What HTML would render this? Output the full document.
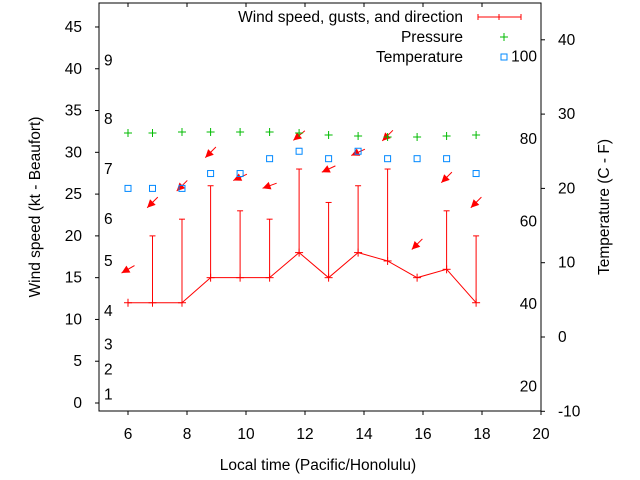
<!DOCTYPE html>
<html><head><meta charset="utf-8"><style>
body{margin:0;background:#fff}
svg{display:block;font-family:"Liberation Sans",sans-serif;font-size:15.5px}
</style></head><body>
<svg id="chart" width="640" height="480" viewBox="0 0 640 480" xmlns="http://www.w3.org/2000/svg">
<g id="axes"></g>
<g id="marks"></g>
<g id="legend">
<text x="463" y="22" text-anchor="end">Wind speed, gusts, and direction</text>
<g stroke="#f00" stroke-width="1">
<line x1="478" y1="17" x2="521" y2="17"/><line x1="478" y1="14" x2="478" y2="20"/><line x1="521" y1="14" x2="521" y2="20"/><line x1="499" y1="14" x2="499" y2="20"/></g>
<text x="463" y="42" text-anchor="end">Pressure</text>
<g stroke="#0b0"><line x1="500" y1="37" x2="508" y2="37"/><line x1="504" y1="33" x2="504" y2="41"/></g>
<text x="463" y="62" text-anchor="end">Temperature</text>
<rect x="501" y="54" width="6" height="6" fill="none" stroke="#08f"/>
</g>
</svg>
<script>
const hours=[6.0,6.83,7.83,8.8,9.8,10.8,11.8,12.8,13.8,14.8,15.8,16.8,17.8];
const windSpeed=[12,12,12,15,15,15,18,15,18,17,15,16,12];
const gusts=[null,20,22,26,23,22,28,24,26,28,null,23,20];
const arrowLevel=[16,24,26,30,27,26,32,28,30,32,19,27,24];
const windDir=[60,45,45,45,65,70,50,65,65,45,45,45,45];
const pressure=[1015,1015,1015.5,1015.5,1015.5,1015.5,1015,1014,1013.5,1013,1013,1013.5,1014];
const tempC=[20,20,20,22,22,24,25,24,25,24,24,24,22];
const xTicks=[6,8,10,12,14,16,18,20];
const yTicks=[0,5,10,15,20,25,30,35,40,45];
const cTicks=[-10,0,10,20,30,40];
const fTicks=[20,40,60,80,100];
const beaufort=[1,2,3,4,5,6,7,8,9];
const beaufortKt=[1,4,7,11,17,22,28,34,41];

const L=99,R=541,T=3,B=411;
const X=h=>128+(h-6)*29.5;
const Y=v=>403-v*8.356;
const YC=c=>337-c*7.43;
const YF=f=>YC((f-32)*5/9);
const YP=p=>133-(p-1015)*2;
const NS="http://www.w3.org/2000/svg";
function mk(tag,attrs,parent,txt){const e=document.createElementNS(NS,tag);for(const k in attrs)e.setAttribute(k,attrs[k]);if(txt!==undefined)e.textContent=txt;parent.appendChild(e);return e;}
const ax=document.getElementById('axes'),mg=document.getElementById('marks');

let fr=mk('rect',{x:L,y:T,width:R-L,height:B-T,fill:'none',stroke:'#000'},ax);


xTicks.forEach(t=>{
 let g=mk('g',{stroke:'#000'},ax);
 
 
 mk('line',{x1:X(t),y1:B,x2:X(t),y2:B+4},g);mk('line',{x1:X(t),y1:T,x2:X(t),y2:T+4},g);
 let tx=mk('text',{x:X(t),y:439,'text-anchor':'middle'},ax,t);
 
 
});
yTicks.forEach(t=>{
 let l=mk('line',{x1:L-4,y1:Y(t),x2:L,y2:Y(t),stroke:'#000'},ax);
 
 
 let tx=mk('text',{x:82,y:Y(t)+5,'text-anchor':'end'},ax,t);
 
 
});
cTicks.forEach(t=>{
 let l=mk('line',{x1:R,y1:YC(t),x2:R+4,y2:YC(t),stroke:'#000'},ax);
 
 
 let tx=mk('text',{x:558,y:YC(t)+5},ax,t);
 
 
});
fTicks.forEach(t=>{
 let tx=mk('text',{x:537,y:YF(t)+5,'text-anchor':'end'},ax,t);
 
 
});
beaufort.forEach((b,i)=>{
 let tx=mk('text',{x:104,y:Y(beaufortKt[i])+5},ax,b);
 
 
});
let xt=mk('text',{x:318,y:470,'text-anchor':'middle'},ax,'Local time (Pacific/Honolulu)');


let yt=mk('text',{x:0,y:0,'text-anchor':'middle',transform:'translate(40,207) rotate(-90)'},ax,'Wind speed (kt - Beaufort)');


let yt2=mk('text',{x:0,y:0,'text-anchor':'middle',transform:'translate(609,207) rotate(-90)'},ax,'Temperature (C - F)');



let pl=mk('polyline',{points:hours.map((h,i)=>X(h)+','+Y(windSpeed[i])).join(' '),fill:'none',stroke:'#f00','stroke-width':1},mg);


hours.forEach((h,i)=>{
 const x=X(h),y=Y(windSpeed[i]);
 let g=mk('g',{stroke:'#f00','stroke-width':1},mg);
 
 
 mk('line',{x1:x-4,y1:y,x2:x+4,y2:y},g);mk('line',{x1:x,y1:y-4,x2:x,y2:y+4},g);
 if(gusts[i]!==null){
  const gy=Y(gusts[i]);
  let e=mk('g',{stroke:'#f00'},mg);
  
  
  mk('line',{x1:x,y1:y,x2:x,y2:gy},e);mk('line',{x1:x-3,y1:gy,x2:x+3,y2:gy},e);
 }
 const ay=Y(arrowLevel[i]),a=windDir[i]*Math.PI/180;
 const dx=-Math.sin(a),dy=Math.cos(a);
 const len=15,tx0=x-dx*len/2,ty0=ay-dy*len/2,hx=x+dx*len/2,hy=ay+dy*len/2;
 let ag=mk('g',{},mg);
 
 
 mk('line',{x1:tx0,y1:ty0,x2:hx,y2:hy,stroke:'#f00'},ag);
 const px=-dy,py=dx;
 mk('polygon',{points:`${hx},${hy} ${hx-dx*8+px*4},${hy-dy*8+py*4} ${hx-dx*8-px*4},${hy-dy*8-py*4}`,fill:'#f00'},ag);
 const pY=YP(pressure[i]);
 let pg=mk('g',{stroke:'#0b0'},mg);
 
 
 mk('line',{x1:x-4,y1:pY,x2:x+4,y2:pY},pg);mk('line',{x1:x,y1:pY-4,x2:x,y2:pY+4},pg);
 let r=mk('rect',{x:x-3,y:YC(tempC[i])-3,width:6,height:6,fill:'none',stroke:'#08f'},mg);
 
 
});
</script>
</body></html>
